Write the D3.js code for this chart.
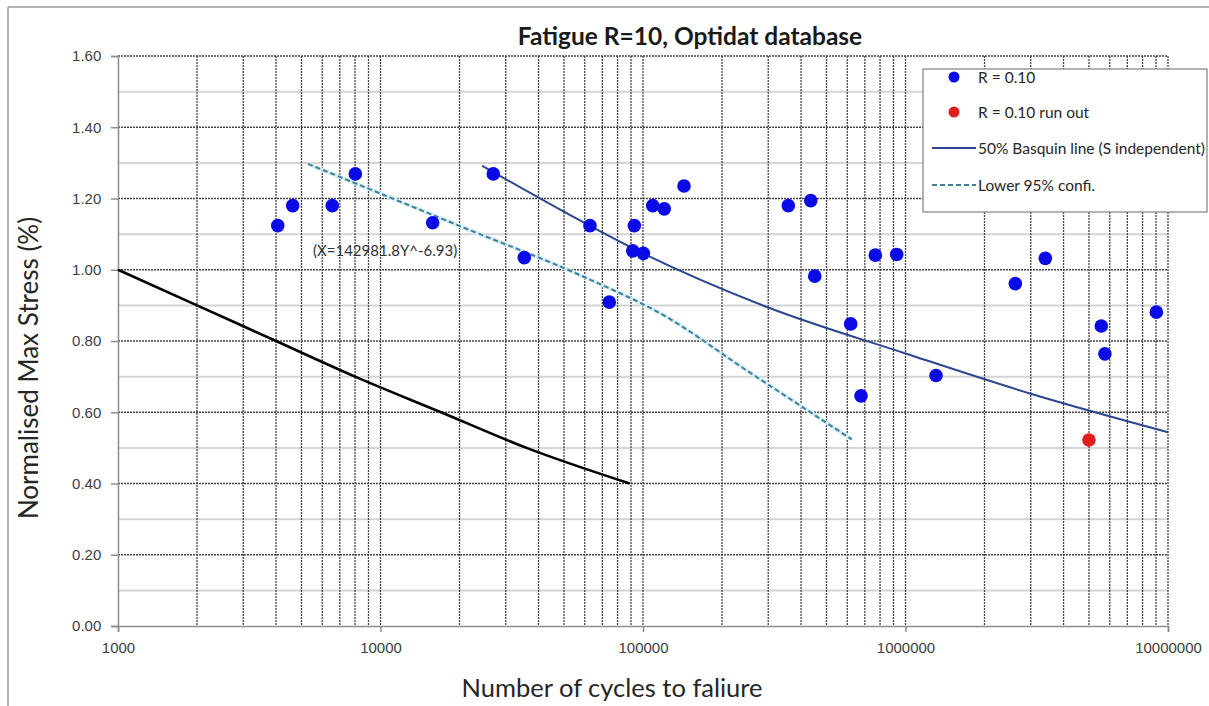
<!DOCTYPE html>
<html>
<head>
<meta charset="utf-8">
<style>
    body { margin: 0; background: #fff; }
    text { font-family: Lato, "Open Sans", sans-serif; }
</style>
<script src="https://d3js.org/d3.v7.min.js"></script>
</head>
<body>
<svg id="chart"></svg>
<script>
    // ---- data
    let cycles = [4060, 4630, 6550, 8020, 15800, 26900, 35300, 62800, 74400, 92700,
                  91400, 100300, 108900, 120500, 143300, 357700, 435500, 451000, 618300, 676900,
                  767400, 925600, 1307000, 2620000, 3410000, 5570000, 5750000, 9030000];
    let stress = [1.124, 1.180, 1.180, 1.269, 1.132, 1.269, 1.034, 1.124, 0.909, 1.124,
                  1.053, 1.046, 1.180, 1.171, 1.235, 1.180, 1.194, 0.982, 0.848, 0.646,
                  1.041, 1.043, 0.703, 0.961, 1.032, 0.842, 0.764, 0.881];

    let runoutCycles = [5000000];
    let runoutStress = [0.522];

    // 50% Basquin line
    let basquinCycles = [24400, 50000, 100000, 300000, 1000000, 3000000, 10000000];
    let basquinStress = [1.292, 1.163, 1.046, 0.894, 0.765, 0.652, 0.544];

    // lower 95% confidence
    let lowerCycles = [5300, 20000, 60000, 120000, 250000, 624000];
    let lowerStress = [1.297, 1.123, 0.979, 0.872, 0.716, 0.524];

    // black curve
    let blackCycles = [1000, 2000, 4000, 8000, 17000, 36000, 89000];
    let blackStress = [1.00, 0.90, 0.80, 0.70, 0.60, 0.50, 0.40];

    let xDecades = [1000, 10000, 100000, 1000000, 10000000];
    let yTicks = [0, 0.2, 0.4, 0.6, 0.8, 1.0, 1.2, 1.4, 1.6];

    let chartTitle = 'Fatigue R=10, Optidat database';
    let xTitle = 'Number of cycles to faliure';
    let yTitle = 'Normalised Max Stress  (%)';
    let note = '(X=142981.8Y^-6.93)';
    let legendNames = ['R = 0.10', 'R = 0.10 run out', '50% Basquin line (S independent)', 'Lower 95% confi.'];

    function zip(xs, ys){
        return xs.map((x, i) => ({n: x, s: ys[i]}));
    }

    function getConfig(){
        let width = 1209;
        let height = 706;
        let margin = { top: 56, bottom: 80, left: 118, right: 41 };
        let bodyWidth = width - margin.left - margin.right;
        let bodyHeight = height - margin.top - margin.bottom;
        let container = d3.select('#chart')
            .attr('width', width)
            .attr('height', height);
        return { width, height, margin, bodyWidth, bodyHeight, container };
    }

    function getScales(config){
        let xScale = d3.scaleLog()
            .domain([1000, 10000000])
            .range([config.margin.left, config.margin.left + config.bodyWidth]);
        let yScale = d3.scaleLinear()
            .domain([0, 1.6])
            .range([config.margin.top + config.bodyHeight, config.margin.top]);
        return { xScale, yScale };
    }

    function drawFrame(config){
        let c = config.container;
        c.append('line').attr('x1', 8).attr('x2', 8).attr('y1', 7).attr('y2', 706)
            .attr('stroke', '#9a9a9a').attr('stroke-width', 1.5);
        c.append('line').attr('x1', 8).attr('x2', 1209).attr('y1', 7).attr('y2', 7)
            .attr('stroke', '#9a9a9a').attr('stroke-width', 1.5);
    }

    function drawGrid(scales, config){
        let { xScale, yScale } = scales;
        let c = config.container;
        let [x0, x1] = xScale.range();
        let [y0, y1] = yScale.range();
        let grid = c.append('g');

        // minor horizontal lines (odd tenths)
        let minors = d3.range(1, 16, 2).map(d => d / 10);
        grid.selectAll('.hminor').data(minors).enter().append('line')
            .attr('x1', x0).attr('x2', x1)
            .attr('y1', d => yScale(d)).attr('y2', d => yScale(d))
            .attr('stroke', '#d4d4d4').attr('stroke-width', 2);

        // major horizontal lines
        grid.selectAll('.hmajor').data(yTicks.filter(d => d > 0)).enter().append('line')
            .attr('x1', x0).attr('x2', x1)
            .attr('y1', d => yScale(d)).attr('y2', d => yScale(d))
            .attr('stroke', '#444').attr('stroke-width', 1.3)
            .attr('stroke-dasharray', '2,1');

        // vertical lines at every 1..9 x 10^k
        let vlines = xScale.ticks().filter(d => d > 1000);
        grid.selectAll('.vline').data(vlines).enter().append('line')
            .attr('x1', d => xScale(d)).attr('x2', d => xScale(d))
            .attr('y1', y1).attr('y2', y0)
            .attr('stroke', '#444').attr('stroke-width', 1.3)
            .attr('stroke-dasharray', '2,1');
    }

    function drawAxes(scales, config){
        let { xScale, yScale } = scales;
        let c = config.container;
        let [y0] = yScale.range();
        let [x0] = xScale.range();

        let axisX = d3.axisBottom(xScale)
            .tickValues(xDecades)
            .tickSize(6)
            .tickFormat(d3.format('d'));
        let gx = c.append('g')
            .attr('transform', `translate(0,${y0})`)
            .call(axisX);

        let axisY = d3.axisLeft(yScale)
            .tickValues(yTicks)
            .tickSize(7)
            .tickFormat(d3.format('.2f'));
        let gy = c.append('g')
            .attr('transform', `translate(${x0},0)`)
            .call(axisY);

        [gx, gy].forEach(g => {
            g.attr('font-size', null).attr('font-family', null);
            g.select('.domain').attr('stroke', '#8c8c8c').attr('stroke-width', 1.5);
            g.selectAll('.tick line').attr('stroke', '#8c8c8c').attr('stroke-width', 1.5);
            g.selectAll('.tick text')
                .style('font-family', '"Liberation Sans", sans-serif')
                .style('font-size', '15px')
                .attr('fill', '#404040');
        });
        gx.selectAll('.tick text').attr('dy', '1.2em');
        gy.selectAll('.tick text').attr('dx', '-0.45em');
    }

    function drawLines(scales, config){
        let { xScale, yScale } = scales;
        let c = config.container;
        let line = d3.line()
            .x(d => xScale(d.n))
            .y(d => yScale(d.s))
            .curve(d3.curveMonotoneX);

        c.append('path').datum(zip(blackCycles, blackStress))
            .attr('d', line).attr('fill', 'none')
            .attr('stroke', '#000').attr('stroke-width', 2.6);

        // light halo under dashed line
        c.append('path').datum(zip(lowerCycles, lowerStress))
            .attr('d', line).attr('fill', 'none')
            .attr('stroke', '#d6eef6').attr('stroke-width', 4);
        c.append('path').datum(zip(lowerCycles, lowerStress))
            .attr('d', line).attr('fill', 'none')
            .attr('stroke', '#3f7f98').attr('stroke-width', 2)
            .attr('stroke-dasharray', '5,3');

        c.append('path').datum(zip(basquinCycles, basquinStress))
            .attr('d', line).attr('fill', 'none')
            .attr('stroke', '#2c4790').attr('stroke-width', 2);
    }

    function drawPoints(scales, config){
        let { xScale, yScale } = scales;
        let c = config.container;
        c.append('g').selectAll('circle')
            .data(zip(cycles, stress)).enter().append('circle')
            .attr('cx', d => xScale(d.n)).attr('cy', d => yScale(d.s))
            .attr('r', 6.8).attr('fill', '#0a0ae6');
        c.append('g').selectAll('circle')
            .data(zip(runoutCycles, runoutStress)).enter().append('circle')
            .attr('cx', d => xScale(d.n)).attr('cy', d => yScale(d.s))
            .attr('r', 6.8).attr('fill', '#e51c1c');
    }

    function drawTexts(scales, config){
        let c = config.container;
        c.append('text').text(chartTitle)
            .attr('x', 690).attr('y', 45)
            .attr('text-anchor', 'middle')
            .style('font-size', '24.5px').style('font-weight', 'bold').attr('fill', '#1a1a1a');

        c.append('text').text(xTitle)
            .attr('x', 612).attr('y', 697)
            .attr('text-anchor', 'middle')
            .style('font-size', '25.5px').attr('fill', '#262626');

        c.append('text').text(yTitle)
            .attr('transform', 'translate(38,368) rotate(-90)')
            .attr('text-anchor', 'middle')
            .style('font-size', '26px').attr('fill', '#262626');

        c.append('text').text(note)
            .attr('x', 313).attr('y', 256)
            .style('font-size', '15px').attr('fill', '#333');
    }

    function drawLegend(config){
        let c = config.container;
        let g = c.append('g');
        g.append('rect')
            .attr('x', 923).attr('y', 69).attr('width', 284).attr('height', 143)
            .attr('fill', '#fff').attr('stroke', '#808080').attr('stroke-width', 1.2);

        let rows = [77, 112, 148, 185];
        g.append('circle').attr('cx', 954).attr('cy', rows[0]).attr('r', 5.5).attr('fill', '#0a0ae6');
        g.append('circle').attr('cx', 954).attr('cy', rows[1]).attr('r', 5.5).attr('fill', '#e51c1c');
        g.append('line').attr('x1', 932).attr('x2', 976).attr('y1', rows[2]).attr('y2', rows[2])
            .attr('stroke', '#2c4790').attr('stroke-width', 2);
        g.append('line').attr('x1', 932).attr('x2', 976).attr('y1', rows[3]).attr('y2', rows[3])
            .attr('stroke', '#3f7f98').attr('stroke-width', 2).attr('stroke-dasharray', '5,3');

        g.selectAll('.ltext').data(legendNames).enter().append('text')
            .attr('x', 978).attr('y', (d, i) => rows[i] + 5.5)
            .text(d => d)
            .style('font-size', '15.5px').attr('fill', '#262626');
    }

    function drawChart(){
        let config = getConfig();
        let scales = getScales(config);
        drawFrame(config);
        drawGrid(scales, config);
        drawAxes(scales, config);
        drawLines(scales, config);
        drawPoints(scales, config);
        drawTexts(scales, config);
        drawLegend(config);
    }

    drawChart();
</script>
</body>
</html>
